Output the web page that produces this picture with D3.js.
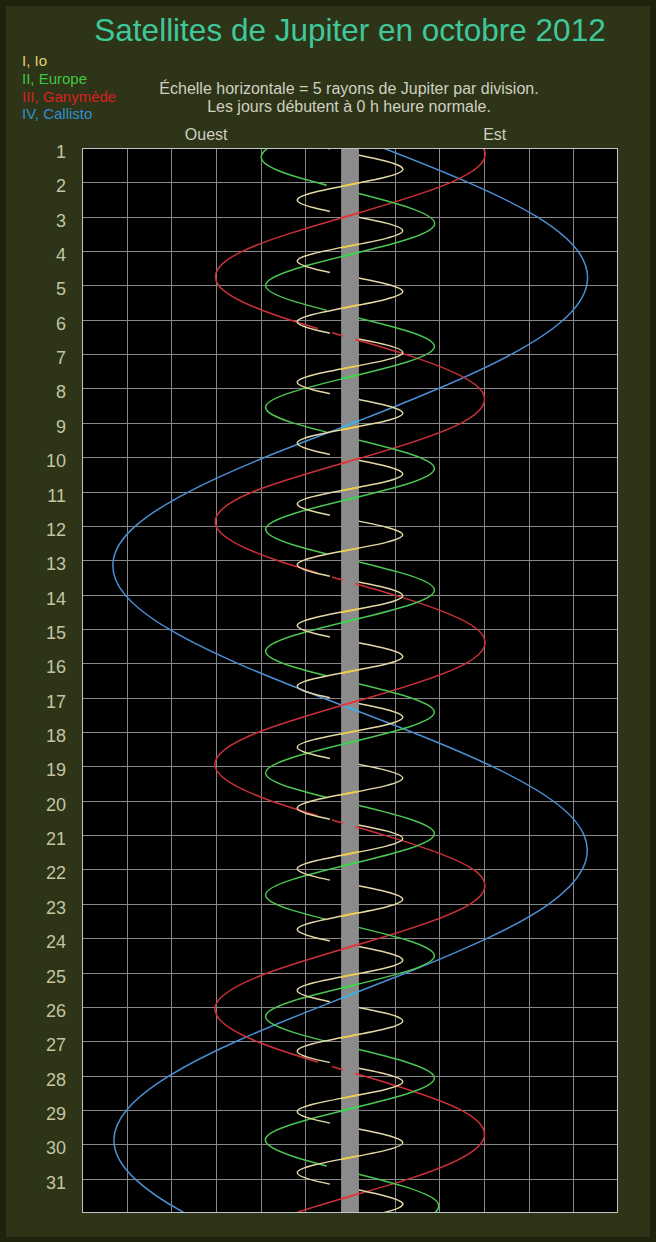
<!DOCTYPE html>
<html>
<head>
<meta charset="utf-8">
<script src="https://cdn.jsdelivr.net/npm/d3@7"></script>
<style>
  html, body { margin: 0; padding: 0; background: #1f230e; }
  svg { display: block; }
</style>
</head>
<body>
<svg id="chart" width="656" height="1242"></svg>
<script>
// ---------- data ----------
// Day rows (0 h of each day of October 2012)
const dayLabels = d3.range(1, 32);
// Vertical grid: every 5 Jupiter radii
const xTicks = d3.range(-30, 31, 5);

// I, Io: days of greatest eastern / western elongation, amplitude in Jupiter radii
const ioEast = [-0.13, 1.64, 3.41, 5.18, 6.95, 8.72, 10.49, 12.26, 14.03, 15.80, 17.57, 19.34, 21.10, 22.87, 24.64, 26.41, 28.18, 29.95, 31.72, 33.49];
const ioWest = [0.75, 2.52, 4.29, 6.06, 7.82, 9.59, 11.36, 13.13, 14.90, 16.67, 18.44, 20.21, 21.98, 23.75, 25.52, 27.29, 29.05, 30.82, 32.59];
const ioMax = 5.9;
// passes behind Jupiter (eclipse + occultation), day of the crossing
const ioHidden = [1.19, 2.96, 4.73, 6.50, 8.27, 10.04, 11.81, 13.57, 15.34, 17.11, 18.88, 20.65, 22.42, 24.19, 25.96, 27.73, 29.50, 31.27];
const ioCuts = [[-2.25, 1.0]];

// II, Europe
const europaEast = [-0.31, 3.24, 6.78, 10.33, 13.87, 17.42, 20.96, 24.51, 28.06, 31.60];
const europaWest = [1.46, 5.01, 8.55, 12.10, 15.65, 19.19, 22.74, 26.28, 29.83, 33.37];
const europaMax = 9.45;
const europaHidden = [2.35, 5.90, 9.44, 12.99, 16.53, 20.08, 23.62, 27.17, 30.71];
const europaCuts = [[-2.6, 1.0]];

// III, Ganymède: offset (Jupiter radii, east +) at 0 h of days 0..33
const ganymedeX = [7.8, 14.9, 11.3, -0.5, -12.0, -14.7, -6.8, 6.1, 14.5, 12.5, 1.5, -10.8, -15.0, -8.2, 4.8, 14.2, 13.0, 2.1, -10.2, -15.1, -8.9, 3.8, 13.8, 13.5, 3.3, -9.1, -15.1, -10.5, 1.4, 12.4, 14.6, 6.7, -6.1, -14.5];
const ganymedeHidden = [6.53, 13.64, 20.71, 27.89];
const ganymedeCuts = [[-3.6, -2.0], [-0.8, 0.6]];

// IV, Callisto: offset at 0 h of days 0..33
const callistoX = [-6.3, 3.7, 13.2, 20.9, 25.5, 26.5, 23.9, 18.1, 9.9, 0.4, -9.5, -18.0, -24.0, -26.5, -25.2, -20.3, -12.6, -3.1, 6.9, 15.9, 22.7, 26.2, 26.0, 22.3, 15.4, 6.4, -3.4, -12.7, -20.2, -25.0, -26.4, -24.1, -18.5, -10.4];

const legendItems = ["I, Io", "II, Europe", "III, Ganymède", "IV, Callisto"];
const legendColors = ["#e4cf72", "#3ec83e", "#d82222", "#2e90d2"];

// ---------- layout ----------
const W = 656, H = 1242;
const svg = d3.select("#chart");
const defs = svg.append("defs");

const x = d3.scaleLinear().domain([-30, 30]).range([82, 618]);
const y = d3.scaleLinear().domain([1, 32]).range([148, 1213]);

// panel
svg.append("rect").attr("width", W).attr("height", H).attr("fill", "#1f230e");
svg.append("rect").attr("x", 6).attr("y", 6).attr("width", W - 12).attr("height", H - 11)
  .attr("fill", "#2e3417");

// title and notes
svg.append("text").attr("x", 350).attr("y", 41).attr("text-anchor", "middle")
  .attr("font-family", "'Liberation Sans', Arial, sans-serif").attr("font-size", 31.5)
  .attr("fill", "#3fc89b").text("Satellites de Jupiter en octobre 2012");

const note = svg.append("g").attr("font-family", "'Liberation Sans', Arial, sans-serif")
  .attr("font-size", 16).attr("fill", "#cfd0c2").attr("text-anchor", "middle");
note.append("text").attr("x", 349).attr("y", 94).text("Échelle horizontale = 5 rayons de Jupiter par division.");
note.append("text").attr("x", 349).attr("y", 112).text("Les jours débutent à 0 h heure normale.");
note.append("text").attr("x", x(-16.1)).attr("y", 140).text("Ouest");
note.append("text").attr("x", x(16.2)).attr("y", 140).text("Est");

svg.append("g").attr("font-family", "'Liberation Sans', Arial, sans-serif").attr("font-size", 15)
  .selectAll("text").data(legendItems).join("text")
  .attr("x", 22).attr("y", (d, i) => 66 + i * 17.8)
  .attr("fill", (d, i) => legendColors[i]).text(d => d);

// plot area
svg.append("rect").attr("x", x(-30)).attr("y", y(1)).attr("width", x(30) - x(-30))
  .attr("height", y(32) - y(1)).attr("fill", "#000");

const grid = svg.append("g").attr("stroke", "#878787").attr("stroke-width", 1);
grid.selectAll("line.v").data(xTicks.slice(1, -1)).join("line").attr("class", "v")
  .attr("x1", d => Math.round(x(d)) + 0.5).attr("x2", d => Math.round(x(d)) + 0.5)
  .attr("y1", y(1)).attr("y2", y(32));
grid.selectAll("line.h").data(dayLabels.slice(1)).join("line").attr("class", "h")
  .attr("y1", d => Math.round(y(d)) + 0.5).attr("y2", d => Math.round(y(d)) + 0.5)
  .attr("x1", x(-30)).attr("x2", x(30));

// Jupiter disk band (2 radii wide)
svg.append("rect").attr("x", x(-1)).attr("y", y(1)).attr("width", x(1) - x(-1))
  .attr("height", y(32) - y(1)).attr("fill", "#8b8b8b");

svg.append("rect").attr("x", x(-30) + 0.5).attr("y", y(1) + 0.5)
  .attr("width", x(30) - x(-30) - 1).attr("height", y(32) - y(1) - 1)
  .attr("fill", "none").attr("stroke", "#c3c3c3").attr("stroke-width", 1);

// day labels
svg.append("g").attr("font-family", "'Liberation Sans', Arial, sans-serif").attr("font-size", 18)
  .attr("fill", "#c3c5a3").attr("text-anchor", "end")
  .selectAll("text").data(dayLabels).join("text")
  .attr("x", 66).attr("y", d => y(d) + 10).text(d => d);

// clips
defs.append("clipPath").attr("id", "plotClip").append("rect")
  .attr("x", x(-30) + 1).attr("y", y(1) + 1).attr("width", x(30) - x(-30) - 2).attr("height", y(32) - y(1) - 2);
defs.append("clipPath").attr("id", "bandClip").append("rect")
  .attr("x", x(-1)).attr("y", y(1)).attr("width", x(1) - x(-1)).attr("height", y(32) - y(1));

function hideMask(id, days, cuts, half) {
  const m = defs.append("mask").attr("id", id).attr("maskUnits", "userSpaceOnUse")
    .attr("x", 0).attr("y", 0).attr("width", W).attr("height", H);
  m.append("rect").attr("width", W).attr("height", H).attr("fill", "#fff");
  days.forEach(t => cuts.forEach(([a, b]) => {
    m.append("rect").attr("x", x(a)).attr("width", x(b) - x(a))
      .attr("y", y(t - half)).attr("height", y(t + half) - y(t - half)).attr("fill", "#000");
  }));
  return "url(#" + id + ")";
}

const line = d3.line().x(d => x(d[1])).y(d => y(d[0])).curve(d3.curveNatural);
const elongNodes = (east, west, a) =>
  east.map(t => [t, a]).concat(west.map(t => [t, -a])).sort((p, q) => p[0] - q[0]);
const dailyNodes = vals => vals.map((v, i) => [i, v]);

const sats = [
  { nodes: dailyNodes(callistoX), color: "#4a8fd4", band: "#38b6ee", mask: null },
  { nodes: dailyNodes(ganymedeX), color: "#cc3038", band: "#ee3434",
    mask: hideMask("mGan", ganymedeHidden, ganymedeCuts, 0.9) },
  { nodes: elongNodes(europaEast, europaWest, europaMax), color: "#4cc553", band: "#34dc4a",
    mask: hideMask("mEur", europaHidden, europaCuts, 0.45) },
  { nodes: elongNodes(ioEast, ioWest, ioMax), color: "#e3d7a6", band: "#f2cd44",
    mask: hideMask("mIo", ioHidden, ioCuts, 0.3) }
];

const curves = svg.append("g").attr("clip-path", "url(#plotClip)").attr("fill", "none");
sats.forEach(s => {
  const g = curves.append("g");
  if (s.mask) g.attr("mask", s.mask);
  g.append("path").datum(s.nodes).attr("d", line)
    .attr("stroke", s.color).attr("stroke-width", 1.5);
  g.append("g").attr("clip-path", "url(#bandClip)")
    .append("path").datum(s.nodes).attr("d", line)
    .attr("stroke", s.band).attr("stroke-width", 1.7);
});
</script>
</body>
</html>
